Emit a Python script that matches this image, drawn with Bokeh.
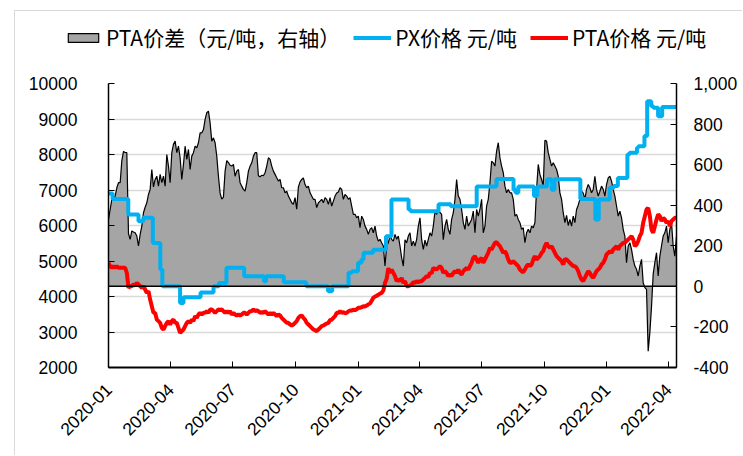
import math
import pandas as pd
from bokeh.plotting import figure
from bokeh.layouts import column, row
from bokeh.models import (ColumnDataSource, Range1d, LinearAxis, FixedTicker, MonthsTicker,
                          DatetimeTickFormatter, NumeralTickFormatter, BasicTickFormatter,
                          Legend, LegendItem, Span, Spacer)
from bokeh.embed import file_html
from bokeh.resources import INLINE

# ---------------- data ----------------
series_start = "2020-01-01"
series_end = "2022-04-13"

# PTA spread (yuan/ton, right axis), evenly spaced samples over the period
spread_values = [
    330, 379, 429, 437, 445, 486, 511, 511, 620, 665, 660, 659,
    260, 232, 273, 268, 264, 248, 199, 256, 297, 363, 390, 412,
    453, 478, 576, 490, 527, 543, 494, 552, 511, 543, 494, 650,
    593, 511, 659, 700, 716, 659, 691, 634, 527, 601, 691, 626,
    675, 576, 642, 659, 691, 683, 708, 757, 757, 773, 823, 856,
    864, 806, 716, 732, 708, 642, 543,
    460, 430, 440, 568, 620, 610, 597, 593, 601, 543, 568, 576,
    511, 494, 478, 469, 511, 568, 593, 609, 642, 659, 659, 545,
    540, 548, 545, 560, 593, 634, 626, 593, 568, 552, 535, 519,
    527, 486, 486, 461, 469, 445, 429, 412, 404, 437, 380, 490,
    515, 527, 535, 502, 486, 494, 461, 445, 429, 429, 388, 412,
    420, 429, 412, 437, 429, 404, 437, 396, 420,
    445, 460, 465, 486, 478, 429, 453, 445, 429, 437,
    396, 355, 355, 338, 346, 289, 346, 330, 297, 281, 256, 281,
    289, 264, 297, 248, 223, 232, 215, 199, 100, 199, 215, 248,
    232, 223, 256, 232, 248, 199, 141, 100, 230, 215, 248, 264,
    199, 223, 199, 232, 297, 338, 230, 182, 228, 199, 232, 264,
    248, 297, 370, 355, 375, 365, 355, 230, 297, 330, 281, 256,
    330, 363, 429, 527, 445, 429, 379, 314, 281, 346, 297, 314,
    330, 371, 264, 379, 346, 379, 429, 264, 297, 396, 429, 511,
    617, 609, 593, 667, 708, 634, 593, 560, 494, 461, 478, 461,
    461, 429, 346, 355, 330, 314, 281, 289, 215, 264, 281, 264,
    297, 289, 314, 480, 601, 552, 527, 494, 720, 716, 659, 626,
    593, 609, 593, 576, 543, 461, 429, 363, 314,
    350, 300, 330, 297, 346, 314, 379, 400, 430, 470, 460, 430,
    478, 502, 486, 461, 478, 543, 478, 445, 469, 494, 478, 445,
    502, 535, 543, 519, 478, 445, 396, 346, 371, 338, 281, 248,
    117, 199, 215, 182, 133, 100, 84, 51, 100, 133, 18, -6,
    -15, -320, -228, -100, 60, 117, 166, 51, 149, 199, 248, 264,
    297, 215, 281, 314, 199, 149, 248,
]

# PTA price (yuan/ton, left axis), same sampling as the spread
pta_values = [
    4948, 4854, 4807, 4854, 4807, 4854, 4807, 4807, 4807, 4807, 4807, 4666,
    4244, 4291, 4291, 4338, 4310, 4385, 4338, 4291, 4244, 4291, 4197, 4103,
    4150, 3915, 3727, 3539, 3539, 3351, 3305, 3258, 3117, 3070, 3164, 3258,
    3305, 3211, 3305, 3351, 3258, 3258, 3117, 2976, 3023, 3070, 3164, 3258,
    3305, 3258, 3351, 3305, 3446, 3399, 3492, 3539, 3492, 3539, 3539, 3586,
    3539, 3633, 3633, 3586, 3539, 3586, 3633,
    3620, 3633, 3586, 3539, 3586, 3539, 3586, 3492, 3539, 3492, 3464, 3492,
    3464, 3492, 3539, 3539, 3492, 3539, 3586, 3586, 3633, 3586, 3614, 3586,
    3539, 3558, 3539, 3586, 3539, 3492, 3539, 3492, 3539, 3492, 3446, 3492,
    3464, 3399, 3351, 3305, 3258, 3258, 3211, 3183, 3211, 3258, 3305, 3399,
    3446, 3464, 3399, 3351, 3258, 3211, 3164, 3117, 3070, 3051, 3023, 3070,
    3117, 3164, 3183, 3211, 3239, 3258, 3333, 3351, 3399,
    3446, 3539, 3539, 3586, 3540, 3560, 3530, 3539, 3580, 3610,
    3600, 3633, 3614, 3640, 3680, 3680, 3700, 3727, 3720, 3746, 3780, 3802,
    3880, 3962, 4000, 4020, 4050, 4080, 4100, 4170, 4380, 4500, 4800, 4666,
    4760, 4666, 4572, 4432, 4479, 4432, 4525, 4385, 4432, 4291, 4291, 4310,
    4338, 4403, 4385, 4432, 4403, 4432, 4432, 4479, 4525, 4572, 4553, 4666,
    4648, 4807, 4779, 4760, 4807, 4854, 4807, 4666, 4713, 4666, 4572, 4619,
    4572, 4666, 4713, 4666, 4760, 4666, 4619, 4713, 4760, 4807, 4760, 4854,
    4948, 5089, 5136, 5042, 4948, 5042, 5089, 4948, 5042, 5136, 5230, 5371,
    5324, 5418, 5511, 5530, 5465, 5418, 5324, 5230, 5277, 5183, 5042, 4948,
    4948, 4995, 4948, 4901, 4854, 4760, 4713, 4685, 4760, 4854, 4901, 4854,
    4901, 5042, 5136, 5042, 5089, 5136, 5230, 5277, 5418, 5511, 5418, 5371,
    5418, 5324, 5230, 5136, 5089, 5042, 4995, 4901, 5050,
    5042, 4995, 4948, 4901, 4854, 4854, 4807, 4713, 4572, 4479, 4432, 4526,
    4620, 4713, 4666, 4572, 4526, 4620, 4713, 4760, 4807, 4901, 4948, 5042,
    5183, 5230, 5277, 5230, 5324, 5371, 5418, 5324, 5418, 5465, 5511, 5511,
    5559, 5606, 5653, 5699, 5606, 5418, 5465, 5559, 5699, 5793, 6075, 6263,
    6451, 6498, 6263, 5887, 5793, 5981, 6169, 6310, 6263, 6122, 6216, 6169,
    6075, 6122, 5981, 6122, 6169, 6216, 6216,
]

# PX price (yuan/ton, left axis): dates on which the quoted level changed, and the level
px_dates = [
    "2020-01-01", "2020-01-07", "2020-01-30", "2020-02-14", "2020-02-21", "2020-03-06",
    "2020-03-17", "2020-03-20", "2020-04-15", "2020-04-20", "2020-05-15", "2020-06-03",
    "2020-06-11", "2020-06-22", "2020-07-18", "2020-08-16", "2020-08-19", "2020-09-14",
    "2020-10-17", "2020-11-18", "2020-11-24", "2020-12-18", "2020-12-23", "2021-01-01",
    "2021-01-06", "2021-01-09", "2021-01-23", "2021-02-11", "2021-02-19", "2021-03-16",
    "2021-03-19", "2021-04-29", "2021-05-17", "2021-06-24", "2021-07-23", "2021-08-17",
    "2021-08-20", "2021-08-24", "2021-09-16", "2021-09-21", "2021-10-05", "2021-10-12",
    "2021-10-16", "2021-11-23", "2021-12-15", "2021-12-20", "2022-01-05", "2022-01-11",
    "2022-01-17", "2022-01-31", "2022-02-03", "2022-02-14", "2022-02-16", "2022-02-25",
    "2022-03-01", "2022-03-07", "2022-03-10", "2022-03-17", "2022-03-23", "2022-04-13",
]
px_values = [
    6900, 6750, 6310, 6120, 6220, 5510,
    4760, 4290, 3820, 3980, 4110, 4290,
    4380, 4810, 4570, 4430, 4570, 4400,
    4290, 4150, 4290, 4670, 4710, 4950,
    5040, 5230, 5320, 5700, 6730, 6450,
    6400, 6600, 6540, 7100, 7310, 7010,
    6920, 7100, 6830, 7100, 7300, 7010,
    7300, 6750, 6170, 6730, 7060, 7110,
    7340, 8000, 8050, 8190, 8230, 8520,
    9500, 9360, 9320, 9080, 9340, 9340,
]

left_ticks = [2000, 3000, 4000, 5000, 6000, 7000, 8000, 9000, 10000]
right_ticks = [-400, -200, 0, 200, 400, 600, 800, 1000]
legend_labels = ["PTA价差（元/吨，右轴）", "PX价格 元/吨", "PTA价格 元/吨"]

# ---------------- styles ----------------
TICK_FONT = "Liberation Sans"
LEGEND_FONT = "Noto Sans CJK SC"
GRAY = "#A5A5A5"
BLUE = "#00B0F0"
RED = "#FF0000"
BORDER = "1px solid #d9d9d9"
NAN = float("nan")

# ---------------- legend strip (own small figure, so nothing is clipped) ----------------
leg = figure(width=728, height=60, x_range=Range1d(0, 1), y_range=Range1d(0, 1),
             output_backend="svg", toolbar_location=None,
             x_axis_location=None, y_axis_location=None, frame_align=False,
             min_border=0, styles={"border-left": BORDER, "border-top": BORDER})
leg.outline_line_color = None
leg.grid.visible = False
leg_box = leg.quad(left=[NAN], right=[NAN], top=[NAN], bottom=[NAN],
                   fill_color=GRAY, line_color="black", line_width=1.2)
leg_px = leg.line(x=[NAN], y=[NAN], line_color=BLUE, line_width=4)
leg_pta = leg.line(x=[NAN], y=[NAN], line_color=RED, line_width=4)
legend = Legend(items=[LegendItem(label=legend_labels[0], renderers=[leg_box]),
                       LegendItem(label=legend_labels[1], renderers=[leg_px]),
                       LegendItem(label=legend_labels[2], renderers=[leg_pta])],
                orientation="horizontal", location=(49, 19),
                label_text_font=LEGEND_FONT, label_text_font_size="21px",
                label_text_color="black",
                glyph_width=38, glyph_height=11, label_standoff=4, spacing=13,
                padding=0, margin=0, border_line_color=None, background_fill_alpha=0)
leg.add_layout(legend, "center")

# ---------------- main chart ----------------
dates = pd.date_range(series_start, series_end, periods=len(spread_values))
src = ColumnDataSource(dict(date=dates, spread=spread_values,
                            base=[0] * len(spread_values), pta=pta_values))
px_src = ColumnDataSource(dict(date=pd.to_datetime(px_dates), px=px_values))

p = figure(width=728, height=385, x_axis_type="datetime",
           x_range=Range1d(pd.Timestamp(series_start), pd.Timestamp(series_end)),
           y_range=Range1d(left_ticks[0], left_ticks[-1]),
           output_backend="svg", toolbar_location=None, frame_align=False,
           min_border_left=93, min_border_right=67, min_border_top=13, min_border_bottom=88,
           styles={"border-left": BORDER})
p.extra_y_ranges = {"right": Range1d(right_ticks[0], right_ticks[-1])}
p.outline_line_color = None
p.background_fill_color = "white"
p.border_fill_color = "white"

p.xgrid.grid_line_color = None
p.ygrid.ticker = FixedTicker(ticks=left_ticks)
p.ygrid.grid_line_color = "#D9D9D9"
p.ygrid.grid_line_width = 1.5

p.varea(x="date", y1="base", y2="spread", source=src, fill_color=GRAY,
        y_range_name="right")
p.line("date", "spread", source=src, line_color="black", line_width=1.2,
       y_range_name="right")
p.add_layout(Span(location=0, dimension="width", line_color="black", line_width=1.5,
                  y_range_name="right"))

p.step("date", "px", source=px_src, mode="after", line_color=BLUE, line_width=4)
p.line("date", "pta", source=src, line_color=RED, line_width=4)


def style_axis(ax):
    ax.major_label_text_font = TICK_FONT
    ax.major_label_text_font_size = "17.5px"
    ax.major_label_text_color = "black"
    ax.axis_line_color = "black"
    ax.major_tick_line_color = "black"
    ax.major_tick_in = 6
    ax.major_tick_out = 0
    ax.minor_tick_line_color = None


xa = p.xaxis[0]
xa.ticker = MonthsTicker(months=[0, 3, 6, 9])
xa.formatter = DatetimeTickFormatter(months="%Y-%m", years="%Y-%m", days="%Y-%m")
xa.major_label_orientation = math.pi / 4
style_axis(xa)
xa.axis_line_width = 2
xa.major_label_standoff = 19

ya = p.yaxis[0]
ya.ticker = FixedTicker(ticks=left_ticks)
ya.formatter = BasicTickFormatter(use_scientific=False)
style_axis(ya)
ya.axis_line_width = 1.5
ya.major_label_standoff = 31

ra = LinearAxis(y_range_name="right", ticker=FixedTicker(ticks=right_ticks),
                formatter=NumeralTickFormatter(format="0,0"))
style_axis(ra)
ra.axis_line_width = 1.5
ra.major_label_standoff = 17
p.add_layout(ra, "right")

layout = row(Spacer(width=14, height=456),
             column(Spacer(width=728, height=10), leg, p, spacing=0),
             spacing=0)
open("out.html", "w").write(file_html(layout, INLINE))
